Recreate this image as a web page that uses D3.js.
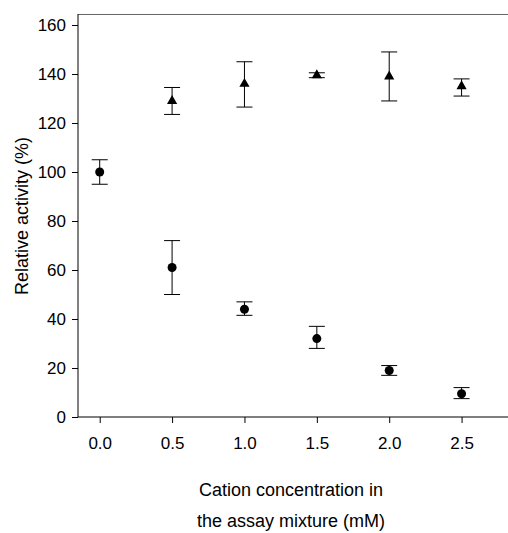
<!DOCTYPE html>
<html><head><meta charset="utf-8">
<script src="https://cdn.jsdelivr.net/npm/d3@7"></script>
<style>body{margin:0;background:#fff}text{font-family:Arial,"Liberation Sans",sans-serif}</style>
</head><body><svg id="c" width="508" height="533"></svg>
<script>
// circle series
const xCirc = [0, 0.5, 1.0, 1.5, 2.0, 2.5];
const yCirc = [100, 61, 44, 32, 19, 9.5];
const loCirc = [95, 50, 41.5, 28, 17, 7.5];
const hiCirc = [105, 72, 47, 37, 21, 12];
// triangle series
const xTri = [0.5, 1.0, 1.5, 2.0, 2.5];
const yTri = [129, 136, 139.5, 139, 135];
const loTri = [123.5, 126.5, 138.5, 129, 131];
const hiTri = [134.5, 145, 140.5, 149, 138];
const xTicks = [0, 0.5, 1.0, 1.5, 2.0, 2.5];
const yTicks = [0, 20, 40, 60, 80, 100, 120, 140, 160];

const svg = d3.select('#c');
const x = d3.scaleLinear().domain([-0.15, 2.8]).range([78, 505]);
const y = d3.scaleLinear().domain([0, 160]).range([417, 25]);

svg.append('line').attr('x1', 78).attr('x2', 508).attr('y1', 14.5).attr('y2', 14.5)
  .attr('stroke', '#666').attr('stroke-width', 1);

svg.append('g').attr('transform', 'translate(0,417)')
  .call(d3.axisBottom(x).tickValues(xTicks).tickFormat(d3.format('.1f')).tickSize(6).tickPadding(14).tickSizeOuter(0))
  .call(g => g.select('.domain').attr('d', 'M78,0H508'));
svg.append('g').attr('transform', 'translate(78,0)')
  .call(d3.axisLeft(y).tickValues(yTicks).tickSize(6).tickPadding(6).tickSizeOuter(0))
  .call(g => g.select('.domain').attr('d', 'M0,14H0V417'));
svg.selectAll('.tick text').attr('font-size', 17).attr('fill', '#000');
svg.selectAll('.domain, .tick line').attr('stroke', '#000');

function errs(xs, lo, hi) {
  const g = svg.append('g').attr('stroke', '#000').attr('stroke-width', 1);
  xs.forEach((v, i) => {
    const cx = x(v);
    g.append('line').attr('x1', cx).attr('x2', cx).attr('y1', y(lo[i])).attr('y2', y(hi[i]));
    [lo[i], hi[i]].forEach(e => g.append('line').attr('x1', cx - 8).attr('x2', cx + 8).attr('y1', y(e)).attr('y2', y(e)));
  });
}
errs(xCirc, loCirc, hiCirc);
errs(xTri, loTri, hiTri);

svg.selectAll('.circ').data(xCirc).enter().append('circle')
  .attr('cx', d => x(d)).attr('cy', (d, i) => y(yCirc[i])).attr('r', 4.5).attr('fill', '#000');
svg.selectAll('.tri').data(xTri).enter().append('path')
  .attr('d', d3.symbol(d3.symbolTriangle, 45))
  .attr('transform', (d, i) => `translate(${x(d)},${y(yTri[i])})`).attr('fill', '#000');

svg.append('text').attr('x', 291).attr('y', 496).attr('text-anchor', 'middle').attr('font-size', 18).text('Cation concentration in');
svg.append('text').attr('x', 291).attr('y', 527).attr('text-anchor', 'middle').attr('font-size', 18).text('the assay mixture (mM)');
svg.append('text').attr('transform', 'translate(28,216) rotate(-90)').attr('text-anchor', 'middle').attr('font-size', 18).text('Relative activity (%)');
</script></body></html>
